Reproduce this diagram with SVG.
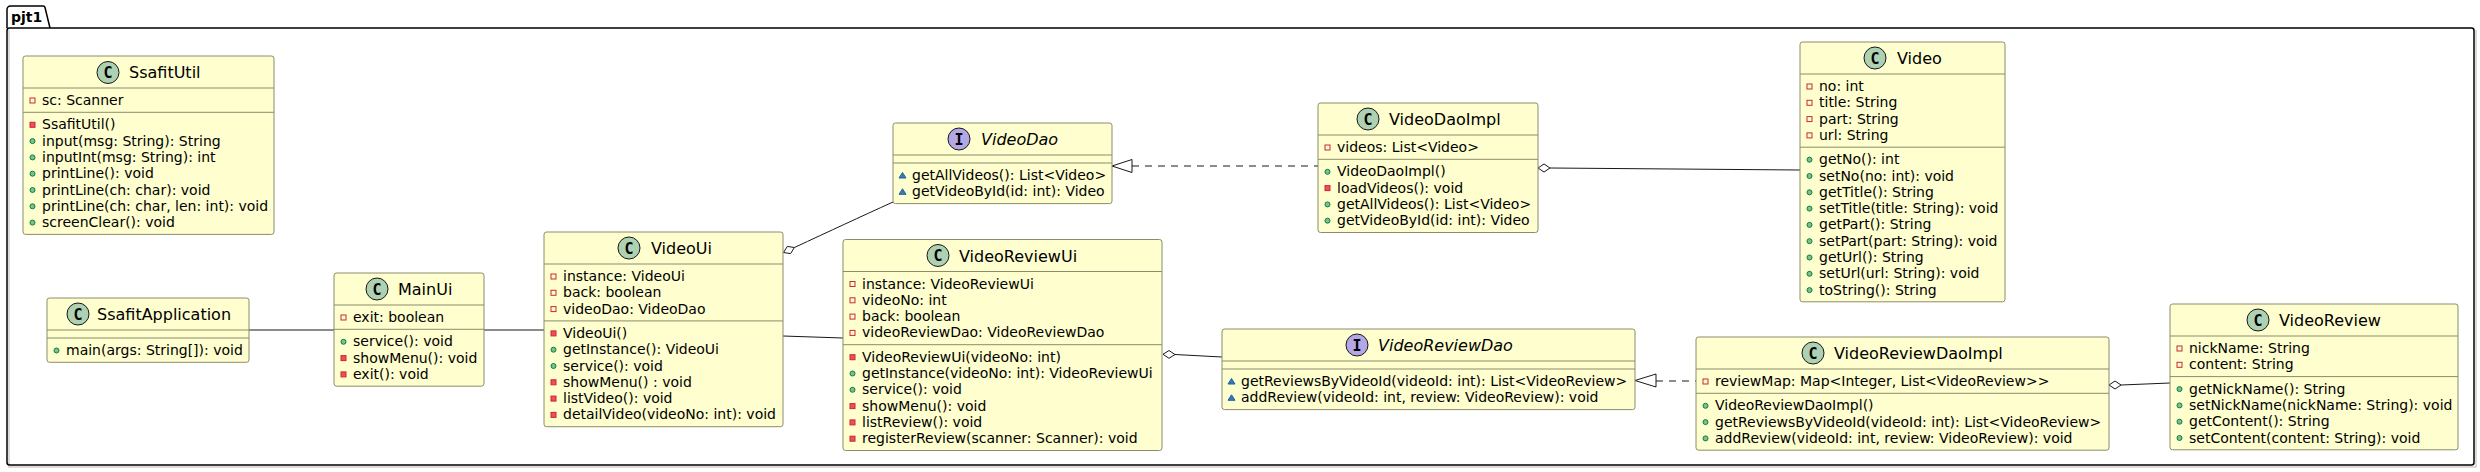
<svg xmlns="http://www.w3.org/2000/svg" xmlns:xlink="http://www.w3.org/1999/xlink" width="2480" height="472" viewBox="0 0 2480 472">
<style>
.b{fill:#FEFECE;stroke:#8C8C6C;stroke-width:1}
.d{stroke:#8C8C6C;stroke-width:1;fill:none}
.t{font-family:"DejaVu Sans","Liberation Sans",sans-serif;font-size:16px;fill:#000}
.ti{font-style:italic}
.m{font-family:"DejaVu Sans","Liberation Sans",sans-serif;font-size:14px;fill:#000}
.cc{fill:#ADD1B2;stroke:#181818;stroke-width:1}
.ic{fill:#B4A7E5;stroke:#181818;stroke-width:1}
.cl{font-family:"DejaVu Sans Mono","Liberation Mono",monospace;font-weight:bold;font-size:15px;fill:#000;text-anchor:middle}
.l{stroke:#181818;fill:none;stroke-width:1}
.dash{stroke-dasharray:7,6}
.hd{fill:#fff;stroke:#181818;stroke-width:1}
.pkg{fill:none;stroke:#000;stroke-width:1.5}
.pt{font-family:"DejaVu Sans","Liberation Sans",sans-serif;font-size:14px;font-weight:bold;fill:#000}
</style>
<defs>
<rect id="pf" x="-2.5" y="-2.5" width="5" height="5" fill="none" stroke="#C82930" stroke-width="1"/>
<rect id="pm" x="-2.5" y="-2.5" width="5" height="5" fill="#F24D5C" stroke="#C82930" stroke-width="1"/>
<circle id="um" r="2.5" fill="#84BE84" stroke="#038048" stroke-width="1"/>
<polygon id="km" points="0,-3 3.5,2.5 -3.5,2.5" fill="#4177AF" stroke="#1963A0" stroke-width="1"/>
</defs>
<rect width="2480" height="472" fill="#fff"/>
<g id="pjt1">
<path d="M9,30 L9,467 L2476,467 L2476,30" fill="none" stroke="#cfcfcf" stroke-width="1.5"/>
<path class="pkg" d="M7,28 V9.5 A3.5,3.5 0 0 1 10.5,6 H43 A2,2 0 0 1 45,7.5 L50,28"/>
<rect class="pkg" x="7" y="28" width="2467" height="437" rx="2.5"/>
<text class="pt" x="11" y="22">pjt1</text>
</g>
<g id="connectors">
<line class="l" x1="249" y1="330" x2="334" y2="330"/>
<line class="l" x1="484" y1="330" x2="544" y2="330"/>
<line class="l" x1="783" y1="336" x2="843" y2="338"/>
<path class="hd" d="M783.5,252.5 L790.6,253.6 L794.4,247.5 L787.3,246.4 Z"/>
<path class="l" d="M794.4,247.5 C830,231 860,217 893,202"/>
<path class="hd" d="M1163,354.3 L1169,350.5 L1175,354.5 L1169,358.3 Z"/>
<path class="l" d="M1175,354.5 L1222,357"/>
<polygon class="hd" points="1112,166 1132,159.5 1132,172.5"/>
<line class="l dash" x1="1132" y1="166" x2="1318" y2="166"/>
<path class="hd" d="M1538,168 L1544,164 L1550,168 L1544,172 Z"/>
<path class="l" d="M1550,168 L1800,170"/>
<polygon class="hd" points="1635,380.5 1656,374 1656,387"/>
<line class="l dash" x1="1656" y1="381" x2="1696" y2="381"/>
<path class="hd" d="M2109,385 L2115,381 L2121,385 L2115,389 Z"/>
<path class="l" d="M2121,385 L2170,383"/>
</g>
<g id="SsafitUtil">
<rect class="b" x="23" y="56" width="251" height="178.4" rx="2.5"/>
<line class="d" x1="23" y1="88" x2="274" y2="88"/>
<line class="d" x1="23" y1="112.3" x2="274" y2="112.3"/>
<circle class="cc" cx="108" cy="72.5" r="11"/>
<text class="cl" x="108" y="78">C</text>
<text class="t" x="129" y="78">SsafitUtil</text>
<use href="#pf" x="32.5" y="100.5"/><text class="m" x="42" y="105">sc: Scanner</text>
<use href="#pm" x="32.5" y="124.8"/><text class="m" x="42" y="129.3">SsafitUtil()</text>
<use href="#um" x="32.5" y="141.1"/><text class="m" x="42" y="145.6">input(msg: String): String</text>
<use href="#um" x="32.5" y="157.4"/><text class="m" x="42" y="161.9">inputInt(msg: String): int</text>
<use href="#um" x="32.5" y="173.7"/><text class="m" x="42" y="178.2">printLine(): void</text>
<use href="#um" x="32.5" y="190"/><text class="m" x="42" y="194.5">printLine(ch: char): void</text>
<use href="#um" x="32.5" y="206.3"/><text class="m" x="42" y="210.8">printLine(ch: char, len: int): void</text>
<use href="#um" x="32.5" y="222.6"/><text class="m" x="42" y="227.1">screenClear(): void</text>
</g>
<g id="SsafitApplication">
<rect class="b" x="47" y="298" width="202" height="64.3" rx="2.5"/>
<line class="d" x1="47" y1="330" x2="249" y2="330"/>
<line class="d" x1="47" y1="338" x2="249" y2="338"/>
<circle class="cc" cx="78" cy="314" r="11"/>
<text class="cl" x="78" y="319.5">C</text>
<text class="t" x="97" y="320">SsafitApplication</text>
<use href="#um" x="56.5" y="350.5"/><text class="m" x="66" y="355">main(args: String[]): void</text>
</g>
<g id="MainUi">
<rect class="b" x="334" y="273" width="150" height="113.2" rx="2.5"/>
<line class="d" x1="334" y1="305" x2="484" y2="305"/>
<line class="d" x1="334" y1="329.3" x2="484" y2="329.3"/>
<circle class="cc" cx="377" cy="289" r="11"/>
<text class="cl" x="377" y="294.5">C</text>
<text class="t" x="398" y="295">MainUi</text>
<use href="#pf" x="343.5" y="317.5"/><text class="m" x="353" y="322">exit: boolean</text>
<use href="#um" x="343.5" y="341.8"/><text class="m" x="353" y="346.3">service(): void</text>
<use href="#pm" x="343.5" y="358.1"/><text class="m" x="353" y="362.6">showMenu(): void</text>
<use href="#pm" x="343.5" y="374.4"/><text class="m" x="353" y="378.9">exit(): void</text>
</g>
<g id="VideoUi">
<rect class="b" x="544" y="232" width="239" height="194.7" rx="2.5"/>
<line class="d" x1="544" y1="264" x2="783" y2="264"/>
<line class="d" x1="544" y1="320.9" x2="783" y2="320.9"/>
<circle class="cc" cx="629" cy="248" r="11"/>
<text class="cl" x="629" y="253.5">C</text>
<text class="t" x="651" y="254">VideoUi</text>
<use href="#pf" x="553.5" y="276.5"/><text class="m" x="563" y="281">instance: VideoUi</text>
<use href="#pf" x="553.5" y="292.8"/><text class="m" x="563" y="297.3">back: boolean</text>
<use href="#pf" x="553.5" y="309.1"/><text class="m" x="563" y="313.6">videoDao: VideoDao</text>
<use href="#pm" x="553.5" y="333.4"/><text class="m" x="563" y="337.9">VideoUi()</text>
<use href="#um" x="553.5" y="349.7"/><text class="m" x="563" y="354.2">getInstance(): VideoUi</text>
<use href="#um" x="553.5" y="366"/><text class="m" x="563" y="370.5">service(): void</text>
<use href="#pm" x="553.5" y="382.3"/><text class="m" x="563" y="386.8">showMenu() : void</text>
<use href="#pm" x="553.5" y="398.6"/><text class="m" x="563" y="403.1">listVideo(): void</text>
<use href="#pm" x="553.5" y="414.9"/><text class="m" x="563" y="419.4">detailVideo(videoNo: int): void</text>
</g>
<g id="VideoReviewUi">
<rect class="b" x="843" y="239.5" width="319" height="211" rx="2.5"/>
<line class="d" x1="843" y1="271.5" x2="1162" y2="271.5"/>
<line class="d" x1="843" y1="344.7" x2="1162" y2="344.7"/>
<circle class="cc" cx="938" cy="255.5" r="11"/>
<text class="cl" x="938" y="261">C</text>
<text class="t" x="959" y="261.5">VideoReviewUi</text>
<use href="#pf" x="852.5" y="284"/><text class="m" x="862" y="288.5">instance: VideoReviewUi</text>
<use href="#pf" x="852.5" y="300.3"/><text class="m" x="862" y="304.8">videoNo: int</text>
<use href="#pf" x="852.5" y="316.6"/><text class="m" x="862" y="321.1">back: boolean</text>
<use href="#pf" x="852.5" y="332.9"/><text class="m" x="862" y="337.4">videoReviewDao: VideoReviewDao</text>
<use href="#pm" x="852.5" y="357.2"/><text class="m" x="862" y="361.7">VideoReviewUi(videoNo: int)</text>
<use href="#um" x="852.5" y="373.5"/><text class="m" x="862" y="378">getInstance(videoNo: int): VideoReviewUi</text>
<use href="#um" x="852.5" y="389.8"/><text class="m" x="862" y="394.3">service(): void</text>
<use href="#pm" x="852.5" y="406.1"/><text class="m" x="862" y="410.6">showMenu(): void</text>
<use href="#pm" x="852.5" y="422.4"/><text class="m" x="862" y="426.9">listReview(): void</text>
<use href="#pm" x="852.5" y="438.7"/><text class="m" x="862" y="443.2">registerReview(scanner: Scanner): void</text>
</g>
<g id="VideoDao">
<rect class="b" x="893" y="123" width="219" height="80.6" rx="2.5"/>
<line class="d" x1="893" y1="155" x2="1112" y2="155"/>
<line class="d" x1="893" y1="163" x2="1112" y2="163"/>
<circle class="ic" cx="959" cy="139" r="11"/>
<text class="cl" x="959" y="144.5">I</text>
<text class="t ti" x="981" y="145">VideoDao</text>
<use href="#km" x="902.5" y="175.5"/><text class="m" x="912" y="180">getAllVideos(): List&lt;Video&gt;</text>
<use href="#km" x="902.5" y="191.8"/><text class="m" x="912" y="196.3">getVideoById(id: int): Video</text>
</g>
<g id="VideoDaoImpl">
<rect class="b" x="1318" y="103" width="220" height="129.5" rx="2.5"/>
<line class="d" x1="1318" y1="135" x2="1538" y2="135"/>
<line class="d" x1="1318" y1="159.3" x2="1538" y2="159.3"/>
<circle class="cc" cx="1368" cy="119" r="11"/>
<text class="cl" x="1368" y="124.5">C</text>
<text class="t" x="1389" y="125">VideoDaoImpl</text>
<use href="#pf" x="1327.5" y="147.5"/><text class="m" x="1337" y="152">videos: List&lt;Video&gt;</text>
<use href="#um" x="1327.5" y="171.8"/><text class="m" x="1337" y="176.3">VideoDaoImpl()</text>
<use href="#pm" x="1327.5" y="188.1"/><text class="m" x="1337" y="192.6">loadVideos(): void</text>
<use href="#um" x="1327.5" y="204.4"/><text class="m" x="1337" y="208.9">getAllVideos(): List&lt;Video&gt;</text>
<use href="#um" x="1327.5" y="220.7"/><text class="m" x="1337" y="225.2">getVideoById(id: int): Video</text>
</g>
<g id="Video">
<rect class="b" x="1800" y="42" width="205" height="259.8" rx="2.5"/>
<line class="d" x1="1800" y1="74" x2="2005" y2="74"/>
<line class="d" x1="1800" y1="147.2" x2="2005" y2="147.2"/>
<circle class="cc" cx="1875" cy="58" r="11"/>
<text class="cl" x="1875" y="63.5">C</text>
<text class="t" x="1897" y="64">Video</text>
<use href="#pf" x="1809.5" y="86.5"/><text class="m" x="1819" y="91">no: int</text>
<use href="#pf" x="1809.5" y="102.8"/><text class="m" x="1819" y="107.3">title: String</text>
<use href="#pf" x="1809.5" y="119.1"/><text class="m" x="1819" y="123.6">part: String</text>
<use href="#pf" x="1809.5" y="135.4"/><text class="m" x="1819" y="139.9">url: String</text>
<use href="#um" x="1809.5" y="159.7"/><text class="m" x="1819" y="164.2">getNo(): int</text>
<use href="#um" x="1809.5" y="176"/><text class="m" x="1819" y="180.5">setNo(no: int): void</text>
<use href="#um" x="1809.5" y="192.3"/><text class="m" x="1819" y="196.8">getTitle(): String</text>
<use href="#um" x="1809.5" y="208.6"/><text class="m" x="1819" y="213.1">setTitle(title: String): void</text>
<use href="#um" x="1809.5" y="224.9"/><text class="m" x="1819" y="229.4">getPart(): String</text>
<use href="#um" x="1809.5" y="241.2"/><text class="m" x="1819" y="245.7">setPart(part: String): void</text>
<use href="#um" x="1809.5" y="257.5"/><text class="m" x="1819" y="262">getUrl(): String</text>
<use href="#um" x="1809.5" y="273.8"/><text class="m" x="1819" y="278.3">setUrl(url: String): void</text>
<use href="#um" x="1809.5" y="290.1"/><text class="m" x="1819" y="294.6">toString(): String</text>
</g>
<g id="VideoReviewDao">
<rect class="b" x="1222" y="329" width="413" height="80.6" rx="2.5"/>
<line class="d" x1="1222" y1="361" x2="1635" y2="361"/>
<line class="d" x1="1222" y1="369" x2="1635" y2="369"/>
<circle class="ic" cx="1357" cy="345" r="11"/>
<text class="cl" x="1357" y="350.5">I</text>
<text class="t ti" x="1378" y="351">VideoReviewDao</text>
<use href="#km" x="1231.5" y="381.5"/><text class="m" x="1241" y="386">getReviewsByVideoId(videoId: int): List&lt;VideoReview&gt;</text>
<use href="#km" x="1231.5" y="397.8"/><text class="m" x="1241" y="402.3">addReview(videoId: int, review: VideoReview): void</text>
</g>
<g id="VideoReviewDaoImpl">
<rect class="b" x="1696" y="337" width="413" height="113.2" rx="2.5"/>
<line class="d" x1="1696" y1="369" x2="2109" y2="369"/>
<line class="d" x1="1696" y1="393.3" x2="2109" y2="393.3"/>
<circle class="cc" cx="1813" cy="353" r="11"/>
<text class="cl" x="1813" y="358.5">C</text>
<text class="t" x="1834" y="359">VideoReviewDaoImpl</text>
<use href="#pf" x="1705.5" y="381.5"/><text class="m" x="1715" y="386">reviewMap: Map&lt;Integer, List&lt;VideoReview&gt;&gt;</text>
<use href="#um" x="1705.5" y="405.8"/><text class="m" x="1715" y="410.3">VideoReviewDaoImpl()</text>
<use href="#um" x="1705.5" y="422.1"/><text class="m" x="1715" y="426.6">getReviewsByVideoId(videoId: int): List&lt;VideoReview&gt;</text>
<use href="#um" x="1705.5" y="438.4"/><text class="m" x="1715" y="442.9">addReview(videoId: int, review: VideoReview): void</text>
</g>
<g id="VideoReview">
<rect class="b" x="2170" y="304" width="288" height="145.8" rx="2.5"/>
<line class="d" x1="2170" y1="336" x2="2458" y2="336"/>
<line class="d" x1="2170" y1="376.6" x2="2458" y2="376.6"/>
<circle class="cc" cx="2258" cy="320" r="11"/>
<text class="cl" x="2258" y="325.5">C</text>
<text class="t" x="2279" y="326">VideoReview</text>
<use href="#pf" x="2179.5" y="348.5"/><text class="m" x="2189" y="353">nickName: String</text>
<use href="#pf" x="2179.5" y="364.8"/><text class="m" x="2189" y="369.3">content: String</text>
<use href="#um" x="2179.5" y="389.1"/><text class="m" x="2189" y="393.6">getNickName(): String</text>
<use href="#um" x="2179.5" y="405.4"/><text class="m" x="2189" y="409.9">setNickName(nickName: String): void</text>
<use href="#um" x="2179.5" y="421.7"/><text class="m" x="2189" y="426.2">getContent(): String</text>
<use href="#um" x="2179.5" y="438"/><text class="m" x="2189" y="442.5">setContent(content: String): void</text>
</g>
</svg>
